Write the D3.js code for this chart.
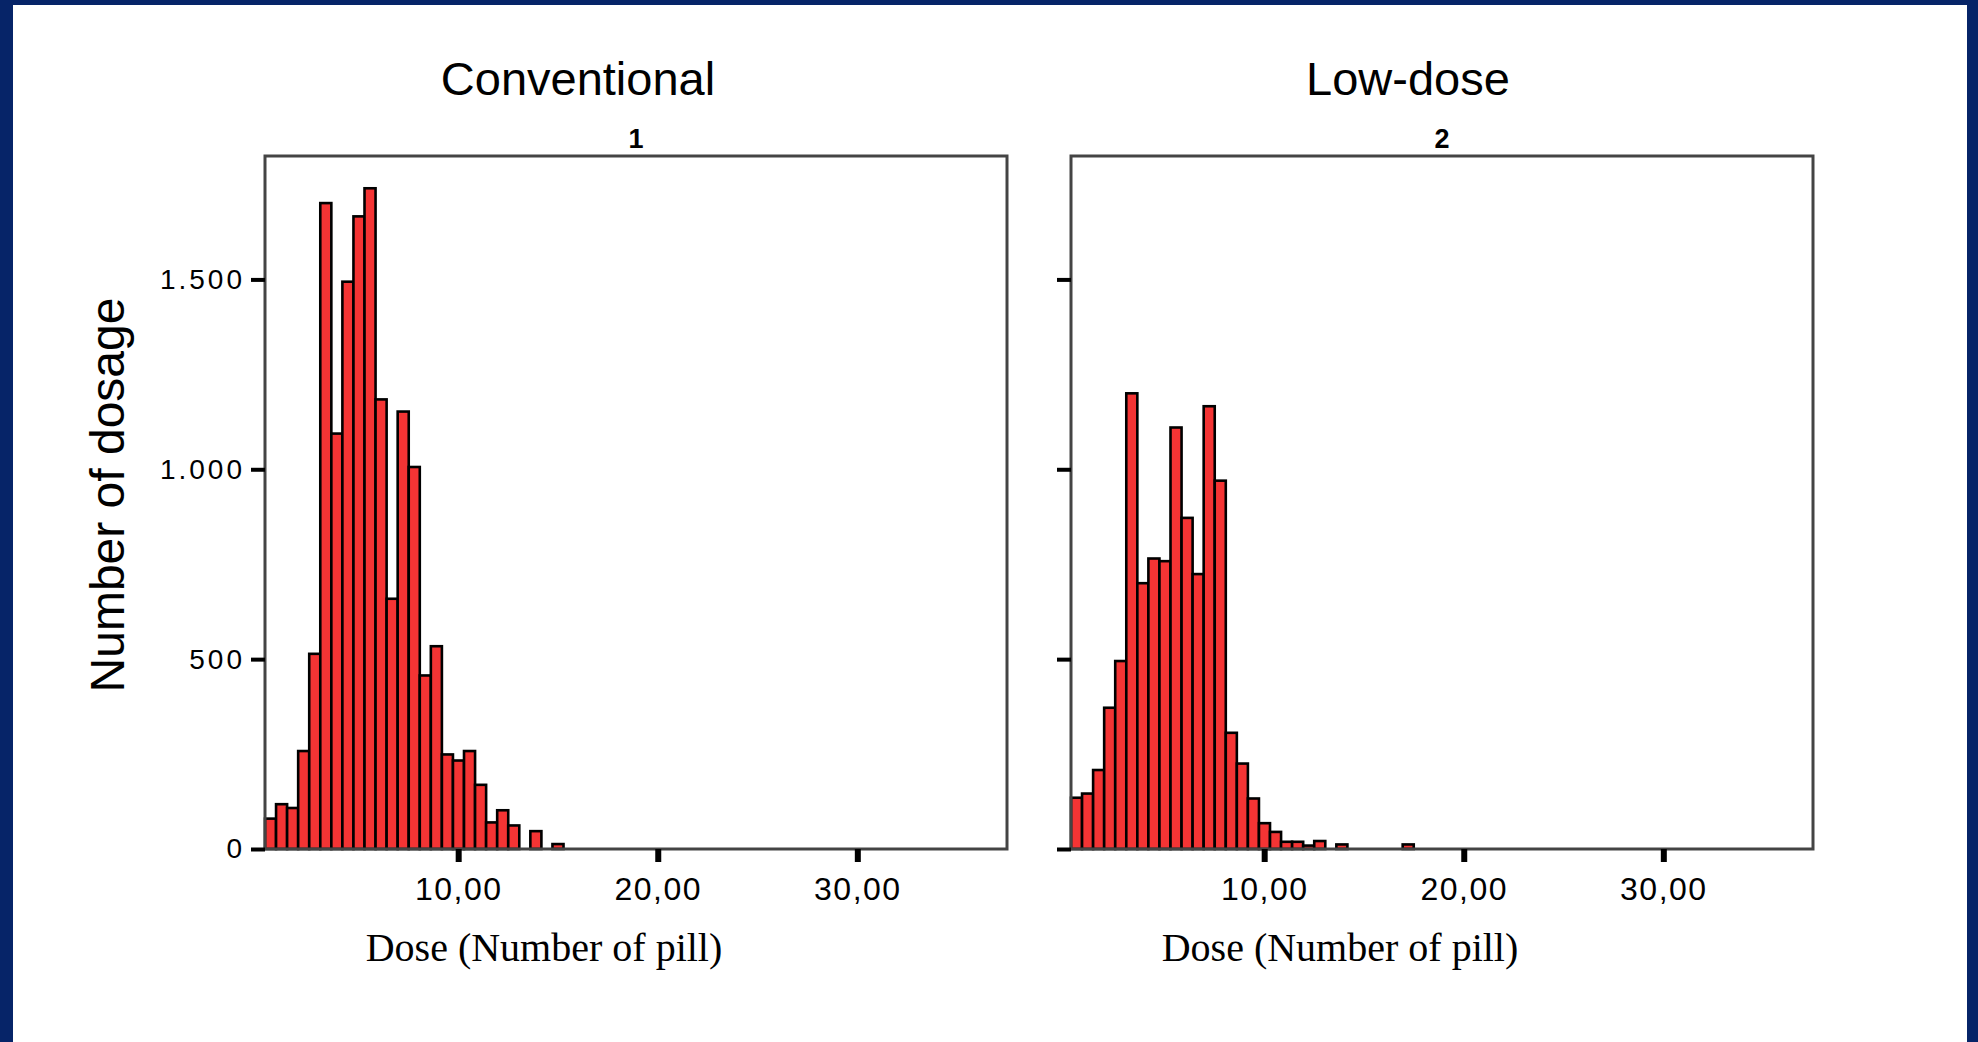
<!DOCTYPE html>
<html>
<head>
<meta charset="utf-8">
<script src="https://cdn.jsdelivr.net/npm/d3@7"></script>
<style>
  body { margin: 0; background: #fff; }
  svg { display: block; }
</style>
</head>
<body>
<svg id="chart"></svg>
<script>
// datos
const panelTitles = ['Conventional', 'Low-dose'];
const panelNumbers = ['1', '2'];
const binStart = 0.32;
const binWidth = 0.554;
const conventionalCounts = [80, 118, 108, 258, 514, 1701, 1094, 1494, 1666, 1740, 1184, 659, 1152, 1006,
  457, 534, 249, 233, 258, 169, 70, 102, 62, 0, 47, 0, 13];
const lowDoseCounts = [135, 146, 208, 372, 495, 1200, 700, 765, 758, 1110, 872, 724, 1166, 970,
  306, 225, 133, 68, 45, 19, 19, 9, 21, 0, 12, 0, 0, 0, 0, 0, 12];
const yTicks = [0, 500, 1000, 1500];
const yTickLabels = ['0', '500', '1.000', '1.500'];
const xTicks = [10, 20, 30];
const xTickLabels = ['10,00', '20,00', '30,00'];
const xTitle = 'Dose (Number of pill)';
const yTitle = 'Number of dosage';

const width = 1978;
const height = 1042;

const svg = d3.select('#chart')
  .attr('width', width)
  .attr('height', height);

// marco azul
const navy = '#062468';
svg.append('rect').attr('x', 0).attr('y', 0).attr('width', 13).attr('height', height).attr('fill', navy);
svg.append('rect').attr('x', 0).attr('y', 0).attr('width', width).attr('height', 5).attr('fill', navy);
svg.append('rect').attr('x', width - 11).attr('y', 0).attr('width', 11).attr('height', height).attr('fill', navy);

const plotW = 742;
const plotH = 693;
const plotTop = 156;

const panels = [
  { left: 265, counts: conventionalCounts, title: panelTitles[0], num: panelNumbers[0], titleX: 578, xLabelX: 544, showY: true },
  { left: 1071, counts: lowDoseCounts, title: panelTitles[1], num: panelNumbers[1], titleX: 1408, xLabelX: 1340, showY: false }
];

const x = d3.scaleLinear().domain([binStart, 37.5]).range([0, plotW]);
const y = d3.scaleLinear().domain([0, 1825]).range([plotH, 0]);

panels.forEach(p => {
  const g = svg.append('g').attr('transform', `translate(${p.left},${plotTop})`);

  // barras
  g.selectAll('rect.bar')
    .data(p.counts.map((c, i) => ({ x0: binStart + i * binWidth, x1: binStart + (i + 1) * binWidth, c })).filter(d => d.c > 0))
    .enter().append('rect')
    .attr('class', 'bar')
    .attr('x', d => x(d.x0))
    .attr('width', d => x(d.x1) - x(d.x0))
    .attr('y', d => y(d.c))
    .attr('height', d => y(0) - y(d.c))
    .attr('fill', '#f43434')
    .attr('stroke', '#000')
    .attr('stroke-width', 2.6);

  // marco
  g.append('rect')
    .attr('width', plotW)
    .attr('height', plotH)
    .attr('fill', 'none')
    .attr('stroke', '#444')
    .attr('stroke-width', 3);

  // eje y
  const yAxis = g.append('g')
    .call(d3.axisLeft(y)
      .tickValues(yTicks)
      .tickSize(14)
      .tickPadding(6)
      .tickFormat((d, i) => p.showY ? yTickLabels[i] : ''));
  yAxis.select('.domain').remove();
  yAxis.selectAll('line').attr('stroke', '#000').attr('stroke-width', 4);
  yAxis.selectAll('text')
    .attr('font-family', 'Liberation Sans, Arial, sans-serif')
    .attr('font-size', 28)
    .attr('letter-spacing', 3)
    .attr('fill', '#000');

  // eje x
  const xAxis = g.append('g')
    .attr('transform', `translate(0,${plotH})`)
    .call(d3.axisBottom(x)
      .tickValues(xTicks)
      .tickSize(13)
      .tickPadding(15)
      .tickFormat((d, i) => xTickLabels[i]));
  xAxis.select('.domain').remove();
  xAxis.selectAll('line').attr('stroke', '#000').attr('stroke-width', 6);
  xAxis.selectAll('text')
    .attr('font-family', 'Liberation Sans, Arial, sans-serif')
    .attr('font-size', 32)
    .attr('letter-spacing', 1.5)
    .attr('fill', '#000');

  // titulos
  svg.append('text')
    .attr('x', p.titleX)
    .attr('y', 95)
    .attr('text-anchor', 'middle')
    .attr('font-family', 'Liberation Sans, Arial, sans-serif')
    .attr('font-size', 47)
    .text(p.title);

  svg.append('text')
    .attr('x', p.left + plotW / 2)
    .attr('y', 148)
    .attr('text-anchor', 'middle')
    .attr('font-family', 'Liberation Sans, Arial, sans-serif')
    .attr('font-weight', 'bold')
    .attr('font-size', 27)
    .text(p.num);

  svg.append('text')
    .attr('x', p.xLabelX)
    .attr('y', 961)
    .attr('text-anchor', 'middle')
    .attr('font-family', 'Liberation Serif, Times New Roman, serif')
    .attr('font-size', 40)
    .text(xTitle);
});

svg.append('text')
  .attr('transform', 'translate(124,495) rotate(-90)')
  .attr('text-anchor', 'middle')
  .attr('font-family', 'Liberation Sans, Arial, sans-serif')
  .attr('font-size', 48)
  .text(yTitle);
</script>
</body>
</html>
